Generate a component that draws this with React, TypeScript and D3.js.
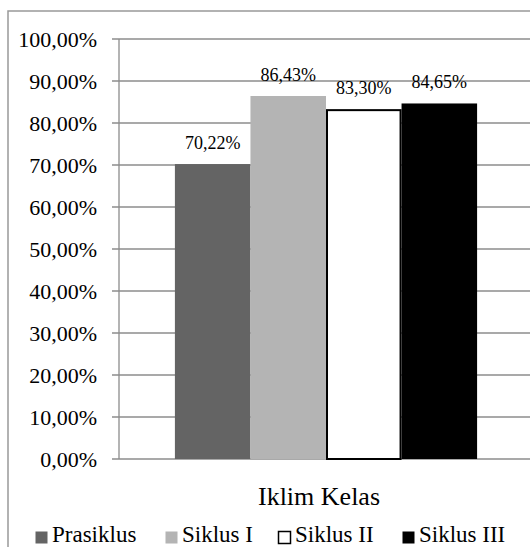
import React from "react";
import * as d3 from "d3";

const categories = ["Iklim Kelas"];
const seriesNames = ["Prasiklus", "Siklus I", "Siklus II", "Siklus III"];
const seriesValues = [70.22, 86.43, 83.3, 84.65];
const valueLabels = ["70,22%", "86,43%", "83,30%", "84,65%"];
const yTicks = [0, 10, 20, 30, 40, 50, 60, 70, 80, 90, 100];
const fills = ["#646464", "#b4b4b4", "#ffffff", "#000000"];

const W = 530;
const H = 547;
const FONT = "Liberation Serif, Tinos, Times New Roman, DejaVu Serif, serif";

export default function App() {
  const plotLeft = 119;
  const plotRight = 533;
  const plotTop = 39;
  const plotBottom = 459;

  const y = d3.scaleLinear().domain([0, 100]).range([plotBottom, plotTop]);
  const x0 = d3.scaleBand().domain(categories).range([plotLeft, plotRight]).paddingInner(0).paddingOuter(0.185);
  const x1 = d3.scaleBand().domain(seriesNames).range([0, x0.bandwidth()]).padding(0);

  const fmt = (v: number) => v.toFixed(2).replace(".", ",") + "%";

  const legendX = [35, 165, 278, 402];

  return (
    <div style={{ position: "absolute", left: 0, top: 0 }}>
      <svg width={W} height={H} style={{ display: "block", fontFamily: FONT }}>
        <rect x={0} y={0} width={W} height={H} fill="#fff" />
        <rect x={8} y={11} width={W + 20} height={H + 20} fill="none" stroke="#999" strokeWidth={1.5} />
        {yTicks.map((t) => (
          <g key={t}>
            <line x1={plotLeft - 7} x2={W + 5} y1={y(t)} y2={y(t)} stroke="#8c8c8c" strokeWidth={1.3} />
            <text x={97} y={y(t)} dy="0.35em" textAnchor="end" style={{ fontFamily: FONT }} fontSize={22} fill="#000">
              {fmt(t)}
            </text>
          </g>
        ))}
        <line x1={plotLeft} x2={plotLeft} y1={plotTop} y2={plotBottom} stroke="#8c8c8c" strokeWidth={1.3} />
        {categories.map((c) => (
          <g key={c} transform={`translate(${x0(c)},0)`}>
            {seriesNames.map((s, i) => {
              const bx = x1(s)!;
              const bw = x1.bandwidth();
              const v = seriesValues[i];
              const isOutlined = fills[i] === "#ffffff";
              return (
                <g key={s}>
                  <rect
                    x={isOutlined ? bx + 1 : bx}
                    y={y(v) + (isOutlined ? 1 : 0)}
                    width={isOutlined ? bw - 2 : bw}
                    height={y(0) - y(v) - (isOutlined ? 1 : 0)}
                    fill={fills[i]}
                    stroke={isOutlined ? "#000" : "none"}
                    strokeWidth={2}
                  />
                  <text x={bx + bw / 2} y={y(v) - 15} textAnchor="middle" style={{ fontFamily: FONT }} fontSize={18} fill="#000">
                    {valueLabels[i]}
                  </text>
                </g>
              );
            })}
            <text x={x0.bandwidth() / 2 - 7} y={505} textAnchor="middle" style={{ fontFamily: FONT }} fontSize={26} fill="#000">
              {c}
            </text>
          </g>
        ))}
        {seriesNames.map((s, i) => (
          <g key={s} transform={`translate(${legendX[i]},0)`}>
            <rect x={0.5} y={531.5} width={12} height={12} fill={fills[i]} stroke="#000" strokeWidth={fills[i] === "#ffffff" ? 1.5 : 0} />
            <text x={17} y={542} style={{ fontFamily: FONT }} fontSize={23} fill="#000">
              {s}
            </text>
          </g>
        ))}
      </svg>
    </div>
  );
}
